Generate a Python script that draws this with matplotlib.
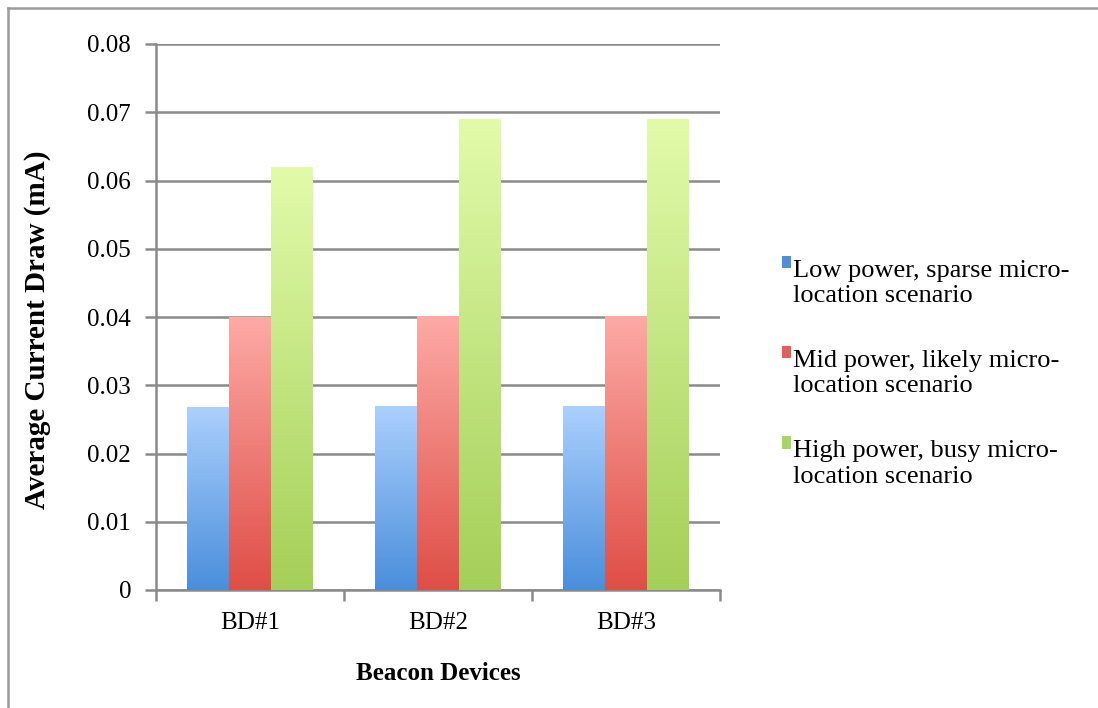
import numpy as np
import matplotlib.pyplot as plt
from matplotlib.colors import LinearSegmentedColormap
from matplotlib.patches import Patch, Rectangle
from matplotlib.lines import Line2D
from matplotlib.legend_handler import HandlerPatch

devices = ['BD#1', 'BD#2', 'BD#3']
series_names = ['Low power, sparse micro-\nlocation scenario',
                'Mid power, likely micro-\nlocation scenario',
                'High power, busy micro-\nlocation scenario']
low_power = [0.0267, 0.0269, 0.0269]
mid_power = [0.0399, 0.0401, 0.0401]
high_power = [0.0619, 0.0690, 0.0690]

# (bottom colour, top colour, legend colour)
shades = [('#4a8edb', '#abd0fd', '#4f8fd8'),
          ('#de4e46', '#fdaaa6', '#e05f58'),
          ('#a4cf58', '#e2fbaa', '#a8d46a')]

plt.rcParams['font.family'] = ['Liberation Serif', 'DejaVu Serif']

fig = plt.figure(figsize=(10.98, 7.08), dpi=100)
ax = fig.add_axes([156 / 1098, 1 - 590 / 708, 564 / 1098, 546 / 708])

x = np.arange(len(devices))
w = 1 / 4.5
grad = np.linspace(0, 1, 256).reshape(-1, 1)

for i, vals in enumerate([low_power, mid_power, high_power]):
    bars = ax.bar(x + (i - 1) * w, vals, w, color='none', zorder=3)
    cmap = LinearSegmentedColormap.from_list('g%d' % i, [shades[i][0], shades[i][1]])
    for b in bars:
        ax.imshow(grad, cmap=cmap, origin='lower', aspect='auto', zorder=3,
                  extent=(b.get_x(), b.get_x() + b.get_width(), 0, b.get_height()))

ax.set_xlim(-0.5, 2.5)
ax.set_ylim(0, 0.08)
ax.set_yticks(np.arange(0, 0.081, 0.01))
ax.set_yticklabels(['0'] + ['%.2f' % v for v in np.arange(0.01, 0.081, 0.01)])
ax.grid(axis='y', color='#8a8a8a', linewidth=1.8, zorder=0)
ax.set_axisbelow(True)

ax.set_xticks(x)
ax.set_xticklabels(devices)
ax.set_xticks([-0.5, 0.5, 1.5, 2.5], minor=True)
ax.tick_params(axis='x', which='major', length=0, pad=16, labelsize=18)
ax.tick_params(axis='x', which='minor', length=8, width=1.8, color='#8a8a8a')
ax.tick_params(axis='y', length=8, width=1.8, color='#8a8a8a', pad=10, labelsize=18)

for s in ['top', 'right']:
    ax.spines[s].set_visible(False)
for s in ['left', 'bottom']:
    ax.spines[s].set_color('#8a8a8a')
    ax.spines[s].set_linewidth(1.8)

ax.set_ylabel('Average Current Draw (mA)', fontsize=21, fontweight='bold')
ax.yaxis.set_label_coords(-0.187, 0.476)
ax.set_xlabel('Beacon Devices', fontsize=18, fontweight='bold')
ax.xaxis.set_label_coords(0.5, -0.132)


def top_square(legend, orig_handle, xdescent, ydescent, width, height, fontsize):
    # square sits level with the cap line of the first text line
    return Rectangle((-xdescent, -ydescent + 0.78 * fontsize), width, height)


handles = [Patch(facecolor=c[2], edgecolor='none') for c in shades]
ax.legend(handles, series_names, loc='center left', bbox_to_anchor=(1.11, 0.396),
          frameon=False, fontsize=19, labelspacing=1.62, handlelength=0.35,
          handleheight=0.35, handletextpad=0.08, borderpad=0, borderaxespad=0,
          handler_map={Patch: HandlerPatch(patch_func=top_square)})

fig.add_artist(Line2D([8 / 1098, 1], [1 - 8 / 708, 1 - 8 / 708],
                      transform=fig.transFigure, color='#9a9a9a', linewidth=1.8))
fig.add_artist(Line2D([8 / 1098, 8 / 1098], [0, 1 - 8 / 708],
                      transform=fig.transFigure, color='#9a9a9a', linewidth=1.8))

plt.savefig('out.png', dpi=100)
